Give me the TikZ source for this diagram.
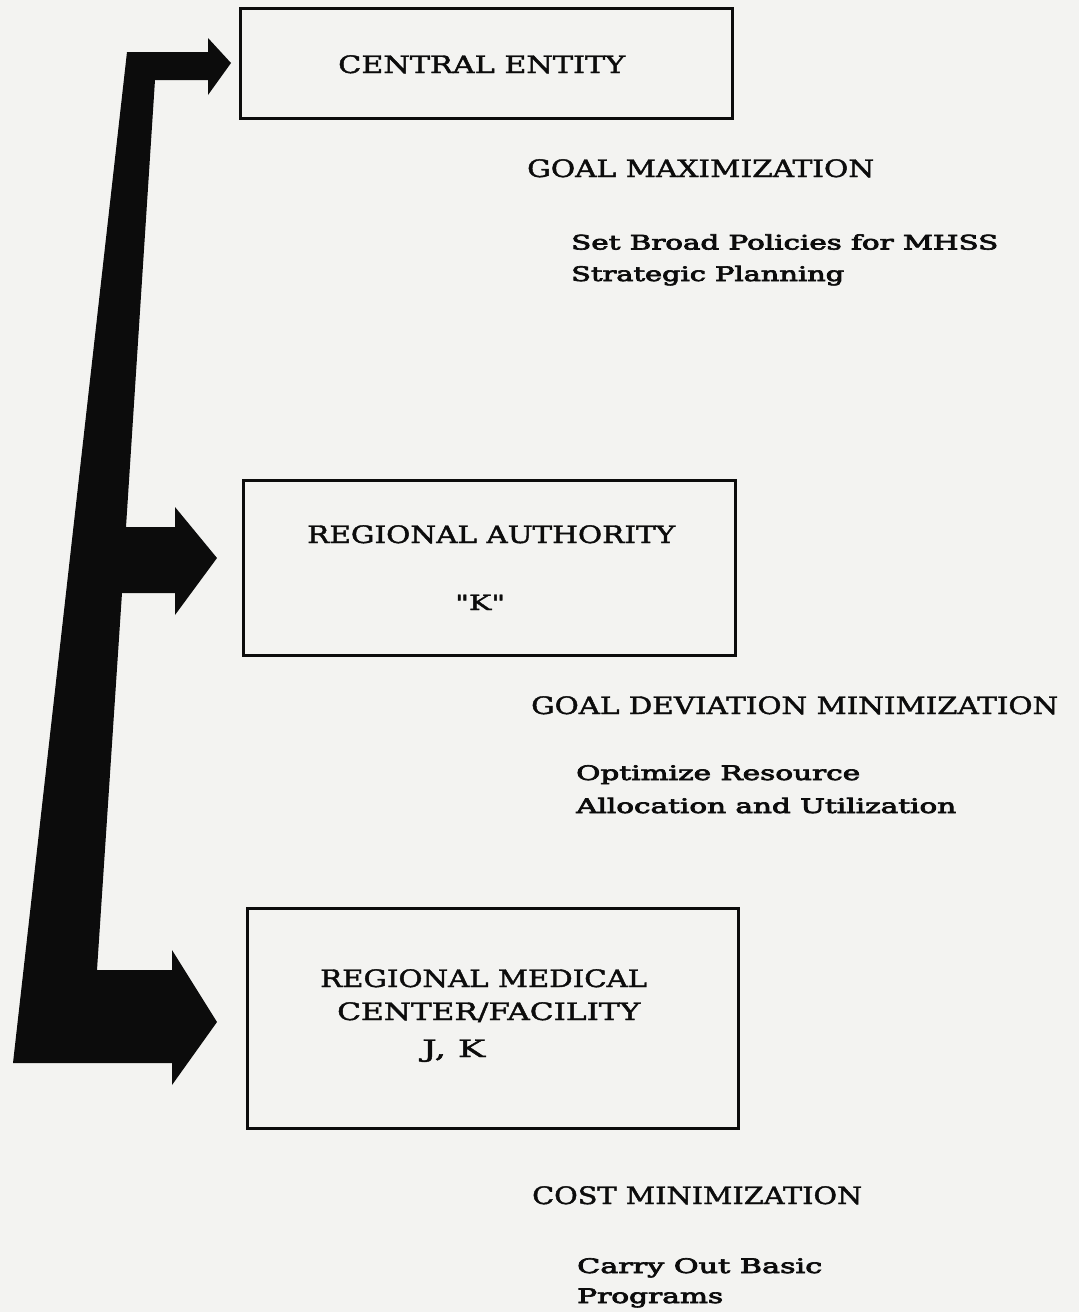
\documentclass[tikz,border=0pt]{standalone}
\usepackage{fontspec}
\setmainfont{DejaVu Serif}
\newfontfamily\capsfont{DejaVu Serif}[FakeBold=1.6]
\newfontfamily\bodyfont{DejaVu Serif}[FakeBold=3.2]
\newfontfamily\qfont{DejaVu Serif}[FakeBold=1.6]
\usepackage{graphicx}
\newcommand{\fitw}[2]{\resizebox{#1pt}{\height}{#2}}
\definecolor{paper}{RGB}{243,243,241}
\definecolor{ink}{RGB}{12,12,12}
\begin{document}
\begin{tikzpicture}[x=1pt,y=-1pt,
  box/.style={draw=ink, line width=3pt, inner sep=0pt},
  headtxt/.style={anchor=base west, inner sep=0pt, text=ink, font=\capsfont\fontsize{24}{24}\selectfont},
  bodytxt/.style={anchor=base west, inner sep=0pt, text=ink, font=\bodyfont\fontsize{20}{20}\selectfont}]
\fill[paper] (0,0) rectangle (1079,1312);
\useasboundingbox (0,0) rectangle (1079,1312);

% boxes
\node[box, minimum width=492pt, minimum height=110pt] (central) at (486,63) {};
\node[box, minimum width=492pt, minimum height=175pt] (regional) at (489,567.5) {};
\node[box, minimum width=491pt, minimum height=220pt] (medical) at (492.5,1018) {};

% big arrow
\fill[ink] (127,52) -- (208,52) -- (208,38) -- (231,63) -- (208,95) -- (208,80)
  -- (155,80) -- (126,527) -- (175,527) -- (175,507) -- (217,558) -- (175,615)
  -- (175,593) -- (122,593) -- (97,970) -- (172,970) -- (172,950) -- (217,1022)
  -- (172,1085) -- (172,1063) -- (13,1063) -- cycle;

% box texts
\node[headtxt] (t1) at (338,73) {\fitw{287}{CENTRAL ENTITY}};
\node[headtxt] (t2) at (307,543) {\fitw{368}{REGIONAL AUTHORITY}};
\node[headtxt, font=\capsfont\fontsize{21}{21}\selectfont] (t3) at (455,610) {\fitw{50}{{\qfont"}K{\qfont"}}};
\node[headtxt] (t4) at (320,987) {\fitw{327}{REGIONAL MEDICAL}};
\node[headtxt] (t5) at (337,1020) {\fitw{303}{CENTER/FACILITY}};
\node[headtxt] (t6) at (422,1057) {\fitw{63}{J, K}};

% side texts
\node[headtxt] (g1) at (527,177) {\fitw{347}{GOAL MAXIMIZATION}};
\node[bodytxt] (s1) at (571,249.5) {\fitw{427}{Set Broad Policies for MHSS}};
\node[bodytxt] (s2) at (571,281) {\fitw{273}{Strategic Planning}};

\node[headtxt] (g2) at (531,714) {\fitw{527}{GOAL DEVIATION MINIMIZATION}};
\node[bodytxt] (s3) at (576,780) {\fitw{284}{Optimize Resource}};
\node[bodytxt] (s4) at (576,813) {\fitw{380}{Allocation and Utilization}};

\node[headtxt] (g3) at (532,1204) {\fitw{330}{COST MINIMIZATION}};
\node[bodytxt] (s5) at (577,1273) {\fitw{245}{Carry Out Basic}};
\node[bodytxt] (s6) at (577,1303) {\fitw{146}{Programs}};
\end{tikzpicture}
\end{document}
